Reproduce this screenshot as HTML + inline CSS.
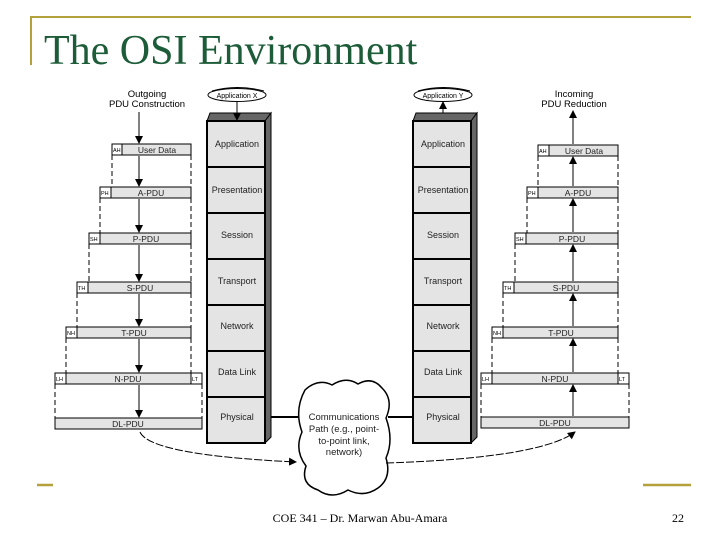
<!DOCTYPE html>
<html><head><meta charset="utf-8"><style>
body{margin:0;background:#fff}
svg text{font-family:"Liberation Sans",sans-serif}
</style></head><body>
<svg width="720" height="540" viewBox="0 0 720 540" xmlns="http://www.w3.org/2000/svg">
<defs><marker id="ah" markerWidth="8" markerHeight="8" refX="7" refY="4" orient="auto" markerUnits="userSpaceOnUse"><path d="M0,0 L8,4 L0,8 z" fill="#000"/></marker>
<clipPath id="tc"><rect x="0" y="0" width="720" height="65"/></clipPath></defs>
<!-- frame -->
<line x1="30" y1="17" x2="691" y2="17" stroke="#b5a13c" stroke-width="2"/>
<line x1="31" y1="17" x2="31" y2="65" stroke="#b5a13c" stroke-width="2"/>
<line x1="37" y1="485" x2="53" y2="485" stroke="#b5a13c" stroke-width="2.5"/>
<line x1="643" y1="485" x2="691" y2="485" stroke="#b5a13c" stroke-width="2.5"/>
<text x="44" y="64" clip-path="url(#tc)" style="font-family:'Liberation Serif',serif" font-size="42" fill="#1d5c38">The OSI Environment</text>
<text x="360" y="522" text-anchor="middle" style="font-family:'Liberation Serif',serif" font-size="12">COE 341 – Dr. Marwan Abu-Amara</text>
<text x="678" y="522" text-anchor="middle" style="font-family:'Liberation Serif',serif" font-size="12">22</text>

<g font-size="9.5" text-anchor="middle">
<text x="147" y="97">Outgoing</text><text x="147" y="107">PDU Construction</text>
<text x="574" y="97">Incoming</text><text x="574" y="107">PDU Reduction</text>
</g>

<!-- stacks -->
<g id="stk">
<polygon points="207,121 210,113 271,113 265,121" fill="#666" stroke="#000"/>
<polygon points="265,121 271,113 271,437 265,443" fill="#666" stroke="#000"/>
<rect x="207" y="121" width="58" height="322" fill="#e4e4e4" stroke="#000" stroke-width="2"/>
<g stroke="#000" stroke-width="2"><line x1="207" y1="167" x2="265" y2="167"/><line x1="207" y1="213" x2="265" y2="213"/><line x1="207" y1="259" x2="265" y2="259"/><line x1="207" y1="305" x2="265" y2="305"/><line x1="207" y1="351" x2="265" y2="351"/><line x1="207" y1="397" x2="265" y2="397"/></g>
<g font-size="9" text-anchor="middle" fill="#222">
<text x="237" y="147">Application</text><text x="237" y="193">Presentation</text><text x="237" y="238">Session</text><text x="237" y="284">Transport</text><text x="237" y="329">Network</text><text x="237" y="375">Data Link</text><text x="237" y="420">Physical</text>
</g>
</g>
<use href="#stk" x="206"/>
<ellipse cx="237" cy="95" rx="29" ry="6.5" fill="#fff" stroke="#000"/>
<path d="M212,91 Q237,84 264,91" fill="none" stroke="#000"/>
<text x="237" y="98" font-size="7" text-anchor="middle">Application X</text>
<line x1="237" y1="101" x2="237" y2="120" stroke="#000" marker-end="url(#ah)"/>
<ellipse cx="443" cy="95" rx="29" ry="6.5" fill="#fff" stroke="#000"/>
<path d="M418,91 Q443,84 470,91" fill="none" stroke="#000"/>
<text x="443" y="98" font-size="7" text-anchor="middle">Application Y</text>
<line x1="443" y1="113" x2="443" y2="102" stroke="#000" marker-end="url(#ah)"/>

<g stroke="#000" font-size="8.5">
<g fill="#e4e4e4">
<rect x="112" y="144" width="79" height="11"/><rect x="100" y="187" width="91" height="11"/><rect x="89" y="233" width="102" height="11"/><rect x="77" y="282" width="114" height="11"/><rect x="66" y="327" width="125" height="11"/><rect x="55" y="373" width="147" height="11"/><rect x="55" y="418" width="147" height="11"/>
<rect x="538" y="145" width="80" height="11"/><rect x="527" y="187" width="91" height="11"/><rect x="515" y="233" width="103" height="11"/><rect x="503" y="282" width="115" height="11"/><rect x="492" y="327" width="126" height="11"/><rect x="481" y="373" width="148" height="11"/><rect x="481" y="417" width="148" height="11"/>
</g>
<g fill="#fff">
<rect x="112" y="144" width="10" height="11"/><rect x="100" y="187" width="11" height="11"/><rect x="89" y="233" width="11" height="11"/><rect x="77" y="282" width="11" height="11"/><rect x="66" y="327" width="11" height="11"/><rect x="55" y="373" width="11" height="11"/><rect x="191" y="373" width="11" height="11"/>
<rect x="538" y="145" width="11" height="11"/><rect x="527" y="187" width="11" height="11"/><rect x="515" y="233" width="11" height="11"/><rect x="503" y="282" width="11" height="11"/><rect x="492" y="327" width="11" height="11"/><rect x="481" y="373" width="11" height="11"/><rect x="618" y="373" width="11" height="11"/>
</g>
<g stroke-dasharray="5,3" fill="none">
<path d="M112,155V187M191,155V187M100,198V233M191,198V233M89,244V282M191,244V282M77,293V327M191,293V327M66,338V373M191,338V373M55,384V418M202,384V418"/>
<path d="M538,156V187M618,156V187M527,198V233M618,198V233M515,244V282M618,244V282M503,293V327M618,293V327M492,338V373M618,338V373M481,384V417M629,384V417"/>
</g>
<g marker-end="url(#ah)">
<line x1="139" y1="112" x2="139" y2="143"/><line x1="139" y1="156" x2="139" y2="186"/><line x1="139" y1="199" x2="139" y2="232"/><line x1="139" y1="245" x2="139" y2="281"/><line x1="139" y1="294" x2="139" y2="326"/><line x1="139" y1="339" x2="139" y2="372"/><line x1="139" y1="385" x2="139" y2="417"/>
<line x1="573" y1="144" x2="573" y2="111"/><line x1="573" y1="186" x2="573" y2="157"/><line x1="573" y1="232" x2="573" y2="199"/><line x1="573" y1="281" x2="573" y2="245"/><line x1="573" y1="326" x2="573" y2="294"/><line x1="573" y1="372" x2="573" y2="339"/><line x1="573" y1="416" x2="573" y2="385"/>
</g>
</g>
<g font-size="8.5" text-anchor="middle" fill="#222">
<text x="157" y="153">User Data</text><text x="151" y="196">A-PDU</text><text x="146" y="242">P-PDU</text><text x="140" y="291">S-PDU</text><text x="134" y="336">T-PDU</text><text x="128" y="382">N-PDU</text><text x="128" y="427">DL-PDU</text>
<text x="584" y="154">User Data</text><text x="578" y="196">A-PDU</text><text x="572" y="242">P-PDU</text><text x="566" y="291">S-PDU</text><text x="561" y="336">T-PDU</text><text x="555" y="382">N-PDU</text><text x="555" y="426">DL-PDU</text>
</g>
<g font-size="5.5" fill="#000">
<text x="113" y="152">AH</text><text x="101" y="195">PH</text><text x="90" y="241">SH</text><text x="78" y="290">TH</text><text x="67" y="335">NH</text><text x="56" y="381">LH</text><text x="192" y="381">LT</text>
<text x="539" y="153">AH</text><text x="528" y="195">PH</text><text x="516" y="241">SH</text><text x="504" y="290">TH</text><text x="493" y="335">NH</text><text x="482" y="381">LH</text><text x="619" y="381">LT</text>
</g>

<line x1="271" y1="417" x2="300" y2="417" stroke="#000" stroke-width="2"/>
<line x1="388" y1="417" x2="413" y2="417" stroke="#000" stroke-width="2"/>
<path d="M305,390 Q318,378 332,385 Q346,376 358,384 Q372,376 382,388 Q394,400 386,418 Q394,440 386,458 Q392,478 378,488 Q364,498 348,490 Q332,500 318,490 Q300,484 306,466 Q294,450 302,432 Q294,410 305,390 Z" fill="#fff" stroke="#000" stroke-width="1.5"/>
<g font-size="9.5" text-anchor="middle" fill="#222">
<text x="344" y="420">Communications</text><text x="344" y="432">Path (e.g., point-</text><text x="344" y="444">to-point link,</text><text x="344" y="455">network)</text>
</g>
<path d="M140,432 Q150,455 296,462" fill="none" stroke="#000" stroke-dasharray="8,2" marker-end="url(#ah)"/>
<path d="M386,463 Q540,458 575,432" fill="none" stroke="#000" stroke-dasharray="8,2" marker-end="url(#ah)"/>
</svg>
</body></html>
